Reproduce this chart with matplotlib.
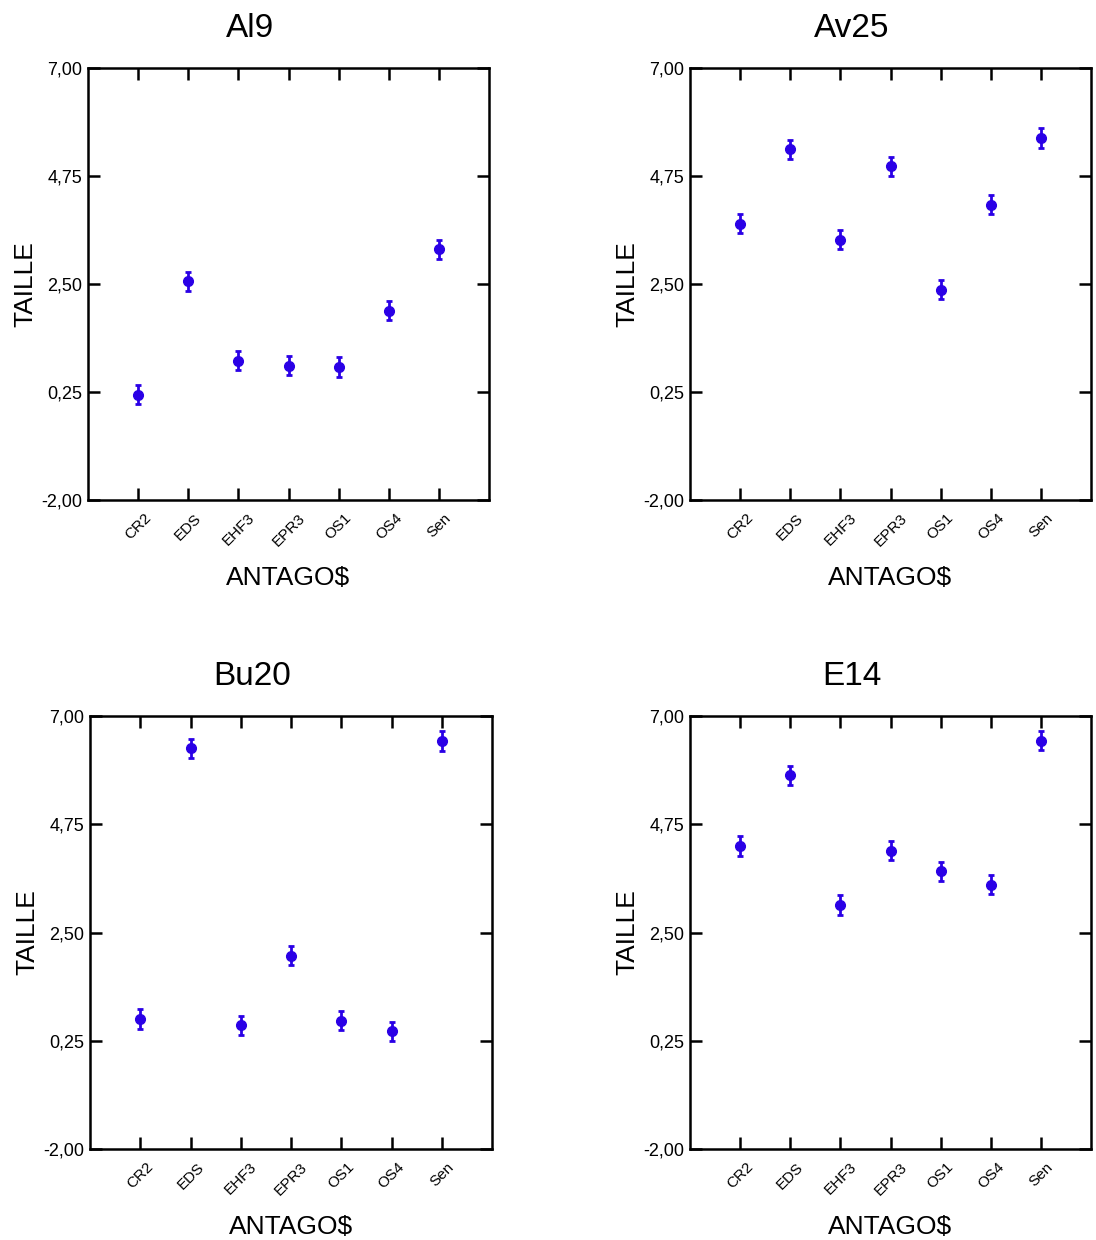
import matplotlib
matplotlib.use('Agg')
import matplotlib.pyplot as plt

plt.rcParams['font.family'] = ['Liberation Sans', 'DejaVu Sans']

# moyennes de TAILLE par antagoniste, pour chaque souche
antago = ['CR2', 'EDS', 'EHF3', 'EPR3', 'OS1', 'OS4', 'Sen']
al9 = [0.19, 2.56, 0.90, 0.80, 0.77, 1.94, 3.22]
av25 = [3.76, 5.31, 3.42, 4.95, 2.38, 4.15, 5.54]
bu20 = [0.70, 6.33, 0.57, 2.02, 0.67, 0.45, 6.48]
e14 = [4.30, 5.77, 3.07, 4.20, 3.77, 3.49, 6.49]
erreur = 0.2  # demi-largeur des intervalles

yticks = [-2.0, 0.25, 2.5, 4.75, 7.0]
ytick_labels = ['-2,00', '0,25', '2,50', '4,75', '7,00']

souches = ['Al9', 'Av25', 'Bu20', 'E14']
series = [al9, av25, bu20, e14]

W, H = 1096, 1240
# cadres des graphiques en pixels : gauche, droite, haut, bas
cadres = [(88, 489, 68, 500), (690, 1091, 68, 500),
          (90, 492, 716, 1149), (690, 1091, 716, 1149)]

fig = plt.figure(figsize=(W / 100, H / 100), dpi=100)
bleu = '#2a00e6'

for nom, vals, (g, d, h, b) in zip(souches, series, cadres):
    ax = fig.add_axes([g / W, (H - b) / H, (d - g) / W, (b - h) / H])
    x = list(range(1, len(antago) + 1))
    ax.errorbar(x, vals, yerr=erreur, fmt='o', color=bleu, ms=7,
                elinewidth=2, capsize=2.5, capthick=2)
    ax.set_xlim(0, 8)
    ax.set_ylim(-2, 7)
    ax.set_yticks(yticks)
    ax.set_yticklabels(ytick_labels, fontsize=13)
    ax.set_xticks(x)
    ax.set_xticklabels(antago, rotation=45, fontsize=11)
    ax.tick_params(direction='in', length=8.5, width=1.8, top=True, right=True)
    ax.tick_params(axis='x', pad=8)
    ax.tick_params(axis='y', pad=4)
    for s in ax.spines.values():
        s.set_linewidth(1.8)

    ax.text(0.404, 1.072, nom, transform=ax.transAxes, ha='center',
            va='baseline', fontsize=24)
    ax.text(-0.157, 0.5, 'TAILLE', transform=ax.transAxes, ha='center',
            va='center', rotation=90, fontsize=19)
    ax.text(0.5, -0.197, 'ANTAGO$', transform=ax.transAxes, ha='center',
            va='baseline', fontsize=19)

fig.savefig('out.png', dpi=100)
